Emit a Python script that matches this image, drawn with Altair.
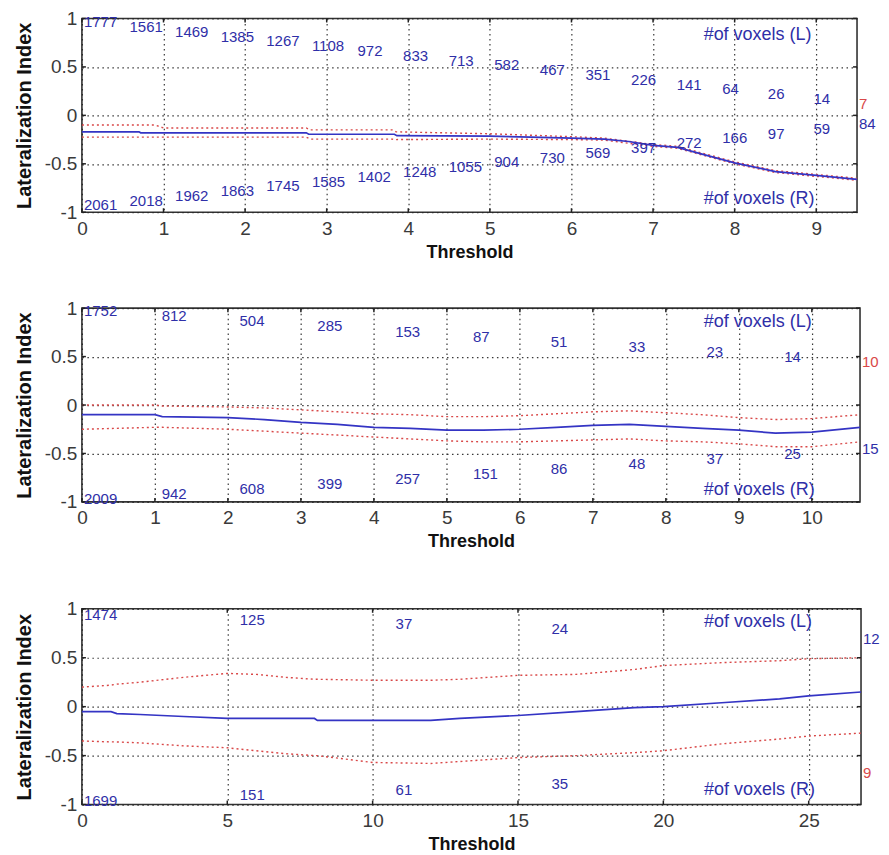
import altair as alt
import pandas as pd
import numpy as np

# ---------------- Panel 1 ----------------
p1_thr = [0, 0.7, 0.72, 2.75, 2.78, 3.83, 3.86, 5.0, 5.5, 6.0, 6.4, 6.7, 7.0, 7.3, 7.6, 8.0, 8.5, 9.0, 9.5]
p1_li = [-0.17, -0.17, -0.18, -0.18, -0.195, -0.195, -0.21, -0.215, -0.225, -0.235, -0.245, -0.27, -0.31, -0.33, -0.40, -0.49, -0.58, -0.62, -0.66]
p1_ci_thr = [0, 0.9, 1.0, 2.75, 2.8, 3.8, 3.85, 5.0, 6.0, 6.4, 7.0, 7.3, 8.0, 8.5, 9.0, 9.5]
p1_upper = [-0.10, -0.10, -0.13, -0.13, -0.15, -0.15, -0.17, -0.19, -0.22, -0.235, -0.30, -0.32, -0.48, -0.57, -0.61, -0.65]
p1_lower = [-0.225, -0.225, -0.225, -0.225, -0.245, -0.245, -0.25, -0.245, -0.25, -0.255, -0.32, -0.34, -0.50, -0.59, -0.63, -0.67]
p1_left = ["1777", "1561", "1469", "1385", "1267", "1108", "972", "833", "713", "582", "467", "351", "226", "141", "64", "26", "14", "7"]
p1_right = ["2061", "2018", "1962", "1863", "1745", "1585", "1402", "1248", "1055", "904", "730", "569", "397", "272", "166", "97", "59", "84"]
p1_xticks = [0, 1, 2, 3, 4, 5, 6, 7, 8, 9]

# ---------------- Panel 2 ----------------
p2_thr = [0, 1.0, 1.1, 2.0, 2.5, 3.0, 3.5, 4.0, 4.5, 5.0, 5.5, 6.0, 6.5, 7.0, 7.5, 8.0, 8.5, 9.0, 9.5, 10.0, 10.66]
p2_li = [-0.10, -0.10, -0.12, -0.13, -0.15, -0.18, -0.20, -0.23, -0.24, -0.26, -0.26, -0.25, -0.23, -0.21, -0.20, -0.22, -0.24, -0.26, -0.29, -0.28, -0.23]
p2_upper = [0.0, 0.0, -0.01, -0.02, -0.03, -0.05, -0.07, -0.09, -0.10, -0.12, -0.12, -0.11, -0.09, -0.07, -0.06, -0.08, -0.10, -0.13, -0.15, -0.14, -0.10]
p2_lower = [-0.25, -0.23, -0.23, -0.25, -0.27, -0.29, -0.31, -0.33, -0.35, -0.37, -0.38, -0.38, -0.37, -0.36, -0.35, -0.37, -0.38, -0.40, -0.43, -0.43, -0.38]
p2_left = ["1752", "812", "504", "285", "153", "87", "51", "33", "23", "14", "10"]
p2_right = ["2009", "942", "608", "399", "257", "151", "86", "48", "37", "25", "15"]
p2_xticks = [0, 1, 2, 3, 4, 5, 6, 7, 8, 9, 10]

# ---------------- Panel 3 ----------------
p3_thr = [0, 1, 1.2, 2, 3.5, 5, 6, 7, 8, 8.1, 10, 12, 13, 15, 17, 19, 20, 22, 24, 25, 26.8]
p3_li = [-0.05, -0.05, -0.07, -0.08, -0.10, -0.12, -0.12, -0.12, -0.12, -0.14, -0.14, -0.14, -0.12, -0.09, -0.05, -0.01, 0.0, 0.04, 0.08, 0.11, 0.15]
p3_upper = [0.20, 0.22, 0.23, 0.25, 0.30, 0.34, 0.33, 0.30, 0.28, 0.28, 0.27, 0.27, 0.28, 0.32, 0.33, 0.38, 0.42, 0.45, 0.47, 0.49, 0.50]
p3_lower = [-0.35, -0.36, -0.36, -0.37, -0.40, -0.42, -0.45, -0.48, -0.50, -0.50, -0.57, -0.58, -0.56, -0.52, -0.50, -0.47, -0.45, -0.38, -0.33, -0.30, -0.27]
p3_left = ["1474", "125", "37", "24", None, "12"]
p3_right = ["1699", "151", "61", "35", None, "9"]
p3_xticks = [0, 5, 10, 15, 20, 25]

y_ticks = [-1, -0.5, 0, 0.5, 1]

BLUE_LINE = "#3434c4"
BLUE_TEXT = "#2f2fa8"
RED = "#d94848"
FONT = "Liberation Sans"


def panel(thr, li, ci_thr, up, lo, lcounts, rcounts, lred, rred, xmax, xticks,
          ly, ry, leg_x, leg_ly, leg_ry, width, height, ext_top):
    xs = alt.Scale(domain=[0, xmax], nice=False, zero=False)
    ys = alt.Scale(domain=[-1, 1], nice=False)
    xaxis = alt.Axis(values=xticks, title="Threshold", grid=True, ticks=False, tickSize=0,
                     domain=False, labelFlush=False, labelPadding=7, titlePadding=5)
    yaxis = alt.Axis(values=y_ticks, title="Lateralization Index", grid=True, ticks=False,
                     tickSize=0, domain=False, labelFlush=False, labelPadding=5, titlePadding=10,
                     labelExpr="datum.value < 0 ? '-' + format(-datum.value, '~g') : format(datum.value, '~g')")
    X = alt.X("x:Q", scale=xs, axis=xaxis)
    Y = alt.Y("y:Q", scale=ys, axis=yaxis)

    ci = pd.concat([
        pd.DataFrame({"x": ci_thr, "y": up, "s": "upper"}),
        pd.DataFrame({"x": ci_thr, "y": lo, "s": "lower"}),
    ])
    ci_layer = alt.Chart(ci).mark_line(color=RED, strokeDash=[2, 3], strokeWidth=1.4).encode(
        x=X, y=Y, detail="s:N")
    li_layer = alt.Chart(pd.DataFrame({"x": thr, "y": li})).mark_line(
        color=BLUE_LINE, strokeWidth=1.7).encode(x=X, y=Y)

    # inward ticks (box style)
    dy = 4.0 * 2 / height
    dx = 4.0 * xmax / width
    trows = []
    for t in xticks:
        trows.append({"x": t, "x2": t, "y": -1, "y2": -1 + dy})
        trows.append({"x": t, "x2": t, "y": 1, "y2": 1 - dy})
    for v in y_ticks:
        trows.append({"x": 0, "x2": dx, "y": v, "y2": v})
        trows.append({"x": xmax, "x2": xmax - dx, "y": v, "y2": v})
    tick_layer = alt.Chart(pd.DataFrame(trows)).mark_rule(color="#222", strokeWidth=1.5).encode(
        x=X, x2="x2:Q", y=Y, y2="y2:Q")

    n = len(lcounts)
    pos_x = np.linspace(0, xmax, n)
    lpos_y = np.linspace(ly[0], ly[1], n)
    rpos_y = np.linspace(ry[0], ry[1], n)
    rows = []
    for i in range(n):
        if lcounts[i] is not None:
            rows.append({"x": pos_x[i], "y": lpos_y[i], "t": lcounts[i],
                         "c": RED if (lred and i == n - 1) else BLUE_TEXT})
        if rcounts[i] is not None:
            rows.append({"x": pos_x[i], "y": rpos_y[i], "t": rcounts[i],
                         "c": RED if (rred and i == n - 1) else BLUE_TEXT})
    txt_layer = alt.Chart(pd.DataFrame(rows)).mark_text(
        align="left", baseline="middle", dx=2, fontSize=15, font=FONT).encode(
        x=X, y=Y, text="t:N", color=alt.Color("c:N", scale=None))

    leg = pd.DataFrame({"x": [leg_x, leg_x], "y": [leg_ly, leg_ry],
                        "t": ["#of voxels (L)", "#of voxels (R)"]})
    leg_layer = alt.Chart(leg).mark_text(
        align="left", baseline="middle", fontSize=18, font=FONT, color=BLUE_TEXT).encode(
        x=X, y=Y, text="t:N")

    # invisible spacer that fixes the gap above the plot area
    spacer = alt.Chart(pd.DataFrame({"t": [" "]})).mark_text(
        align="left", baseline="top", fontSize=4, opacity=0).encode(
        x=alt.value(0), y=alt.value(-ext_top), text="t:N")

    return alt.layer(ci_layer, li_layer, tick_layer, txt_layer, leg_layer, spacer).properties(
        width=width, height=height)


c1 = panel(p1_thr, p1_li, p1_ci_thr, p1_upper, p1_lower, p1_left, p1_right, True, False,
           9.5, p1_xticks, (0.96, 0.12), (-0.93, -0.09), 7.62, 0.83, -0.86, 776, 194, 9)
c2 = panel(p2_thr, p2_li, p2_thr, p2_upper, p2_lower, p2_left, p2_right, True, False,
           10.66, p2_xticks, (0.97, 0.44), (-0.97, -0.45), 8.52, 0.86, -0.88, 779, 194, 25)
c3 = panel(p3_thr, p3_li, p3_thr, p3_upper, p3_lower, p3_left, p3_right, False, True,
           26.8, p3_xticks, (0.94, 0.69), (-0.96, -0.68), 21.4, 0.86, -0.85, 780, 196, 36)

chart = alt.concat(c1, c2, c3, columns=1, spacing=20, align="none").properties(
    padding={"left": 5, "top": 0, "right": 0, "bottom": 0}
).configure_view(
    stroke="#333", strokeWidth=1.6
).configure_axis(
    labelFont=FONT, titleFont=FONT, labelFontSize=19, titleFontSize=18,
    titleFontWeight="bold", labelColor="#3a3a3a", titleColor="#111",
    gridColor="#222", gridDash=[1.5, 3.5], gridWidth=1.2, gridOpacity=0.9
).configure_axisY(titleFontSize=20)

chart.save("out.html", embed_options={"renderer": "svg", "actions": False})
